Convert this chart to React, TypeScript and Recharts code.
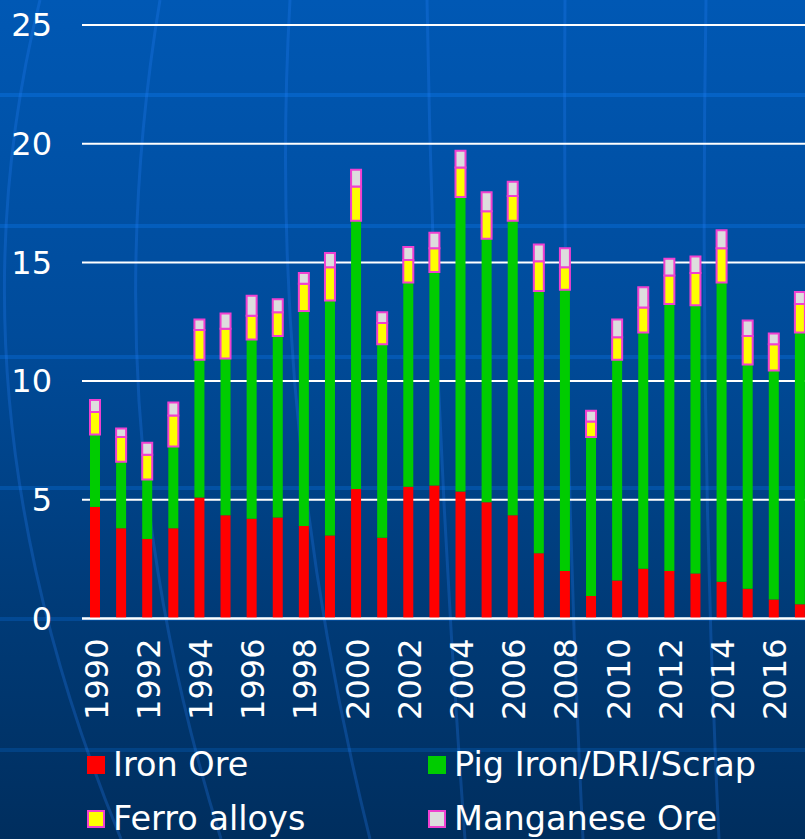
import React from 'react';
import { BarChart, Bar, XAxis, YAxis, CartesianGrid } from 'recharts';

const years = [
  '1990', '1991', '1992', '1993', '1994', '1995', '1996', '1997', '1998', '1999',
  '2000', '2001', '2002', '2003', '2004', '2005', '2006', '2007', '2008', '2009',
  '2010', '2011', '2012', '2013', '2014', '2015', '2016', '2017',
];
const ironOre = [4.7, 3.8, 3.35, 3.8, 5.1, 4.35, 4.2, 4.25, 3.9, 3.5, 5.45, 3.4, 5.55, 5.6, 5.35, 4.9, 4.35, 2.75, 2.0, 0.95, 1.6, 2.1, 2.0, 1.9, 1.55, 1.25, 0.8, 0.6];
const pigIron = [3.05, 2.8, 2.5, 3.45, 5.8, 6.6, 7.55, 7.65, 9.05, 9.9, 11.3, 8.15, 8.6, 9.0, 12.4, 11.1, 12.4, 11.05, 11.85, 6.7, 9.3, 9.95, 11.25, 11.3, 12.6, 9.45, 9.65, 11.45];
const ferroAlloys = [0.95, 1.05, 1.05, 1.3, 1.25, 1.25, 1.0, 1.0, 1.15, 1.4, 1.45, 0.9, 0.95, 1.0, 1.25, 1.15, 1.05, 1.25, 0.95, 0.65, 0.95, 1.05, 1.2, 1.35, 1.45, 1.2, 1.1, 1.2];
const manganeseOre = [0.5, 0.35, 0.5, 0.55, 0.45, 0.65, 0.85, 0.55, 0.45, 0.6, 0.7, 0.45, 0.55, 0.65, 0.7, 0.8, 0.6, 0.7, 0.8, 0.45, 0.75, 0.85, 0.7, 0.7, 0.75, 0.65, 0.45, 0.5];
const yTicks = [0, 5, 10, 15, 20, 25];

const data = years.map((year, i) => ({
  year,
  ironOre: ironOre[i],
  pigIron: pigIron[i],
  ferroAlloys: ferroAlloys[i],
  manganeseOre: manganeseOre[i],
}));

const MAGENTA = '#f040d0';
const FONT = '"DejaVu Sans", Verdana, sans-serif';

const series = [
  { key: 'ironOre', name: 'Iron Ore', fill: '#ff0000', stroke: 'none' },
  { key: 'pigIron', name: 'Pig Iron/DRI/Scrap', fill: '#00cc00', stroke: 'none' },
  { key: 'ferroAlloys', name: 'Ferro alloys', fill: '#ffff00', stroke: MAGENTA },
  { key: 'manganeseOre', name: 'Manganese Ore', fill: '#dddddd', stroke: MAGENTA },
];

// background decoration (slide template): faint meridians and horizontal bands
const curves = [
  'M40,0 Q-60,400 121,839',
  'M160,0 Q90,420 221,839',
  'M290,0 Q266,420 370,839',
  'M427,0 Q434,420 465,839',
  'M565,0 Q562,420 583,839',
  'M706,0 Q699,420 719,839',
];
const bands = [95, 226, 357, 488, 619, 750];

function YearTick(props: any) {
  const { x, y, payload } = props;
  return (
    <text
      x={x + 1}
      y={y}
      transform={`rotate(-90, ${x + 1}, ${y})`}
      textAnchor="end"
      dy="0.36em"
      fill="#ffffff"
      fontSize={32}
      fontFamily={FONT}
    >
      {payload.value}
    </text>
  );
}

export default function App() {
  return (
    <div
      style={{
        position: 'absolute',
        left: 0,
        top: 0,
        width: 805,
        height: 839,
        overflow: 'hidden',
        background: 'linear-gradient(#0058b4 0%, #004b9a 40%, #003b78 72%, #002e5e 100%)',
        fontFamily: FONT,
      }}
    >
      <svg width={805} height={839} style={{ position: 'absolute', left: 0, top: 0 }}>
        {bands.map((b) => (
          <rect key={b} x={0} y={b - 2} width={805} height={4} fill={`rgba(10,115,225,${(0.5 - (b / 839) * 0.3).toFixed(2)})`} />
        ))}
        {curves.map((d) => (
          <path key={d} d={d} fill="none" stroke="rgba(40,130,255,0.25)" strokeWidth={3} />
        ))}
      </svg>
      <div style={{ position: 'absolute', left: 0, top: 0 }}>
        <BarChart
          width={813}
          height={839}
          data={data}
          margin={{ top: 25, right: 0, left: 0, bottom: 120.5 }}
          barSize={10}
        >
          <CartesianGrid vertical={false} stroke="#ffffff" strokeWidth={2} />
          <XAxis
            dataKey="year"
            interval={1}
            height={100}
            tickLine={false}
            tickSize={0}
            tickMargin={20}
            axisLine={{ stroke: '#ffffff', strokeWidth: 2 }}
            tick={<YearTick />}
          />
          <YAxis
            domain={[0, 25]}
            ticks={yTicks}
            width={82}
            axisLine={false}
            tickLine={false}
            tickSize={0}
            tickMargin={30}
            tick={{ fill: '#ffffff', fontSize: 32, fontFamily: FONT }}
          />
          {series.map((s) => (
            <Bar
              key={s.key}
              dataKey={s.key}
              name={s.name}
              stackId="a"
              fill={s.fill}
              stroke={s.stroke}
              strokeWidth={s.stroke === 'none' ? 0 : 2}
              isAnimationActive={false}
            />
          ))}
        </BarChart>
      </div>
      {series.map((s, i) => (
        <div
          key={s.key}
          style={{
            position: 'absolute',
            left: i % 2 === 0 ? 87 : 428,
            top: i < 2 ? 749 : 803,
            display: 'flex',
            alignItems: 'center',
            color: '#ffffff',
            fontSize: 33.5,
            lineHeight: '32px',
            whiteSpace: 'nowrap',
          }}
        >
          <span
            style={{
              display: 'inline-block',
              width: 18,
              height: 18,
              boxSizing: 'border-box',
              background: s.fill,
              border: s.stroke === 'none' ? 'none' : `2px solid ${s.stroke}`,
              marginRight: 8,
            }}
          />
          <span>{s.name}</span>
        </div>
      ))}
    </div>
  );
}
